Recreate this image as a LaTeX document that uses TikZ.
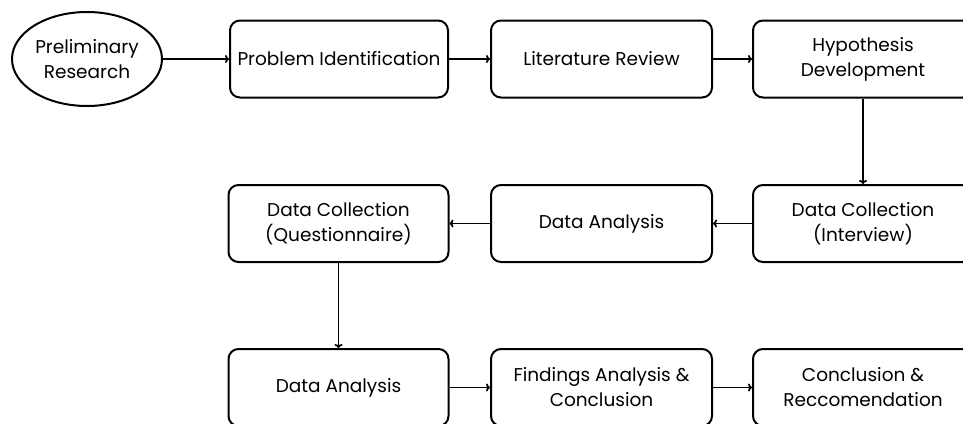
\documentclass[tikz,border=0pt]{standalone}
\usepackage{fontspec}
\setmainfont{Poppins}
\usetikzlibrary{arrows.meta,shapes.geometric}
\begin{document}
\begin{tikzpicture}[x=1pt,y=-1pt,
  box/.style={draw, line width=2pt, rounded corners=10pt, minimum width=220pt, minimum height=77pt, align=center, font=\fontsize{18.5}{25}\selectfont, inner sep=0pt},
  oval/.style={draw, ellipse, line width=2pt, minimum width=150pt, minimum height=94pt, align=center, font=\fontsize{18.5}{25}\selectfont, inner sep=0pt},
  arr/.style={line width=1.8pt, -{To[length=4pt,width=8pt]}}]
\useasboundingbox (0,0) rectangle (963,423);
\clip (0,0) rectangle (963,423);
\node[oval] (pre) at (87,59) {Preliminary\\Research};
\node[box, minimum width=218pt] (pid) at (339,59) {Problem Identification};
\node[box, minimum width=221pt] (lit) at (601.5,59) {Literature Review};
\node[box] (hyp) at (863,59) {Hypothesis\\Development};
\node[box] (dci) at (863,223.5) {Data Collection\\(Interview)};
\node[box, minimum width=221pt] (da1) at (601.5,223.5) {Data Analysis};
\node[box] (dcq) at (338.5,223.5) {Data Collection\\(Questionnaire)};
\node[box] (da2) at (338.5,387.5) {Data Analysis};
\node[box, minimum width=221pt] (fin) at (601.5,387.5) {Findings Analysis \&\\Conclusion};
\node[box] (con) at (863,387.5) {Conclusion \&\\Reccomendation};
\draw[arr] (pre) -- (pid);
\draw[arr] (pid) -- (lit);
\draw[arr] (lit) -- (hyp);
\draw[arr] (hyp) -- (dci);
\draw[arr] (dci) -- (da1);
\draw[arr] (da1) -- (dcq);
\draw[arr] (dcq) -- (da2);
\draw[arr] (da2) -- (fin);
\draw[arr] (fin) -- (con);
\end{tikzpicture}
\end{document}
